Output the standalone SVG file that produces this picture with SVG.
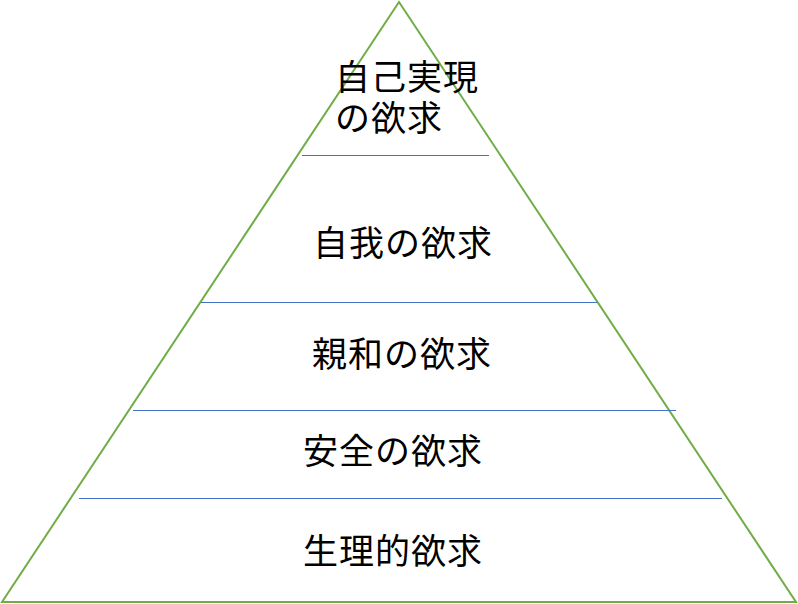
<svg xmlns="http://www.w3.org/2000/svg" width="798" height="604" viewBox="0 0 798 604">
<style>
.lbl{font-family:"Noto Sans CJK JP","Noto Sans CJK SC",sans-serif;font-size:35px;fill:#000;letter-spacing:1px;}
.sep{stroke:#4472C4;stroke-width:1;}
</style>
<rect width="798" height="604" fill="#fff"/>
<g id="pyramid">
<polygon points="399,2 2,602 796,602" fill="none" stroke="#70AD47" stroke-width="2"/>
</g>
<g id="connectors">
<line class="sep" x1="302" y1="155.5" x2="489" y2="155.5"/>
<line class="sep" x1="201" y1="302.5" x2="597" y2="302.5"/>
<line class="sep" x1="133" y1="410.5" x2="676" y2="410.5"/>
<line class="sep" x1="79" y1="498.5" x2="722" y2="498.5"/>
</g>
<g id="level5"><text class="lbl"><tspan x="335" y="90">自己実現</tspan><tspan x="335" y="131">の欲求</tspan></text></g>
<g id="level4"><text class="lbl" x="313" y="256">自我の欲求</text></g>
<g id="level3"><text class="lbl" x="312" y="367">親和の欲求</text></g>
<g id="level2"><text class="lbl" x="303" y="464">安全の欲求</text></g>
<g id="level1"><text class="lbl" x="303" y="564">生理的欲求</text></g>
</svg>
